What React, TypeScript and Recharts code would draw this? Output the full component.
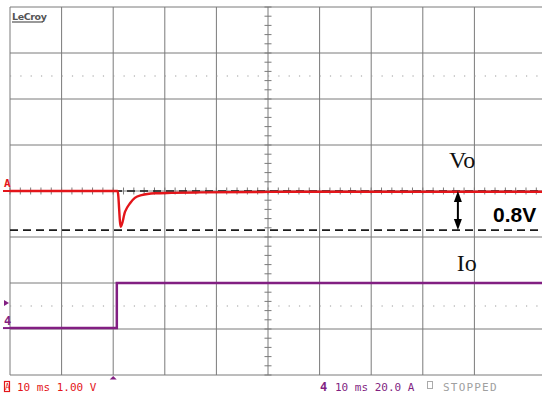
import { ComposedChart, Line, XAxis, YAxis, ReferenceLine, ReferenceDot } from "recharts";

// Vo deviation from its steady level (V), 1 V/div
const voTime = [-20, 0.85, 1.45, 2.3, 3.3, 4.2, 5.5, 8.1, 11.3, 16.8, 30, 50, 83.1];
const voDelta = [0, 0, -0.78, -0.45, -0.26, -0.15, -0.09, -0.05, -0.04, -0.03, -0.02, -0.015, -0.015];

// Io load step (A), 20 A/div
const ioTime = [-20, 0.7, 0.7, 83.1];
const ioAmps = [0, 0, 19.6, 19.6];

// scope grid (10 ms/div, 1 div vertical)
const gridTime = [-20, -10, 0, 10, 20, 30, 40, 50, 60, 70];
const gridVolt = [-4, -3, -2, -1, 0, 1, 2, 3, 4];
const dottedVolt = [2.5, -2.5];
const dipLevel = -0.85;

const voData = voTime.map((t, i) => ({ t, v: voDelta[i] }));
const ioData = ioTime.map((t, i) => ({ t, a: ioAmps[i] }));

const minorTime = Array.from({ length: 52 }, (_, i) => -20 + i * 2);
const minorVolt = Array.from({ length: 41 }, (_, i) => -4 + i * 0.2);

const RED = "#e3151a";
const PURPLE = "#821f82";
const GRID = "#7a7a7a";

const Arrow = (p: any) => {
  const x = p.x1;
  const top = Math.min(p.y1, p.y2);
  const bot = Math.max(p.y1, p.y2);
  return (
    <g>
      <line x1={x} y1={top + 6} x2={x} y2={bot - 6} stroke="#000" strokeWidth={2} />
      <path d={`M${x},${top} L${x - 4},${top + 11} L${x + 4},${top + 11} Z`} fill="#000" />
      <path d={`M${x},${bot} L${x - 4},${bot - 11} L${x + 4},${bot - 11} Z`} fill="#000" />
    </g>
  );
};

export default function App() {
  return (
    <div style={{ position: "absolute", left: 0, top: 0, width: 542, height: 394, background: "#fff" }}>
      <ComposedChart width={542} height={394} margin={{ top: 7, right: 0, bottom: 19, left: 10 }}>
        <XAxis dataKey="t" type="number" domain={[-20, 83.1]} allowDataOverflow hide />
        <YAxis yAxisId="v" type="number" domain={[-4, 4]} allowDataOverflow hide />
        <YAxis yAxisId="i" type="number" domain={[-20.4, 139.6]} allowDataOverflow hide />

        {gridTime.map((t) => (
          <ReferenceLine key={"gx" + t} yAxisId="v" x={t} stroke={GRID} strokeWidth={1} />
        ))}
        {gridVolt.map((v) => (
          <ReferenceLine key={"gy" + v} yAxisId="v" y={v} stroke={GRID} strokeWidth={1} />
        ))}
        {dottedVolt.map((v) => (
          <ReferenceLine key={"dy" + v} yAxisId="v" y={v} stroke="#9a9a9a" strokeWidth={1} strokeDasharray="1.2 9.12" />
        ))}
        {minorVolt.map((v) => (
          <ReferenceLine
            key={"mv" + v}
            yAxisId="v"
            segment={[{ x: 29.32, y: v }, { x: 30.68, y: v }]}
            stroke={GRID}
          />
        ))}
        {minorTime.map((t) => (
          <ReferenceLine
            key={"mt" + t}
            yAxisId="v"
            segment={[{ x: t, y: -0.076 }, { x: t, y: 0.076 }]}
            stroke={GRID}
          />
        ))}

        <ReferenceLine yAxisId="v" y={0} stroke="#1a1a1a" strokeWidth={1.6} strokeDasharray="8 5" />
        <ReferenceLine yAxisId="v" y={dipLevel} stroke="#1a1a1a" strokeWidth={1.6} strokeDasharray="8 5" />

        <Line
          yAxisId="i"
          data={ioData}
          dataKey="a"
          type="linear"
          stroke={PURPLE}
          strokeWidth={2.5}
          dot={false}
          isAnimationActive={false}
        />
        <Line
          yAxisId="v"
          data={voData}
          dataKey="v"
          type="monotone"
          stroke={RED}
          strokeWidth={2.4}
          dot={false}
          isAnimationActive={false}
        />

        <ReferenceLine
          yAxisId="v"
          segment={[{ x: 66.8, y: 0 }, { x: 66.8, y: dipLevel }]}
          shape={Arrow}
        />

        <ReferenceDot
          yAxisId="v"
          x={65.1}
          y={0.5}
          r={0}
          shape={(p: any) => (
            <text x={p.cx} y={p.cy} fontFamily="'Liberation Serif', 'Times New Roman', serif" fontSize={24} fill="#111">
              Vo
            </text>
          )}
        />
        <ReferenceDot
          yAxisId="v"
          x={66.6}
          y={-1.74}
          r={0}
          shape={(p: any) => (
            <text x={p.cx} y={p.cy} fontFamily="'Liberation Serif', 'Times New Roman', serif" fontSize={24} fill="#111">
              Io
            </text>
          )}
        />
        <ReferenceDot
          yAxisId="v"
          x={73.6}
          y={-0.674}
          r={0}
          shape={(p: any) => (
            <text x={p.cx} y={p.cy} fontFamily="'Liberation Sans', Arial, sans-serif" fontWeight="bold" fontSize={21} fill="#000">
              0.8V
            </text>
          )}
        />

        {/* channel offset markers at left edge */}
        <ReferenceDot
          yAxisId="v"
          x={-20}
          y={0}
          r={0}
          ifOverflow="visible"
          shape={(p: any) => (
            <g>
              <text x={p.cx - 6} y={p.cy - 4} fontFamily="'DejaVu Sans Mono', monospace" fontWeight="bold" fontSize={11} fill={RED}>
                A
              </text>
              <line x1={p.cx - 7} x2={p.cx} y1={p.cy} y2={p.cy} stroke={RED} strokeWidth={2} />
            </g>
          )}
        />
        <ReferenceDot
          yAxisId="i"
          x={-20}
          y={0}
          r={0}
          ifOverflow="visible"
          shape={(p: any) => (
            <g>
              <path d={`M${p.cx - 6},${p.cy - 28} L${p.cx - 1},${p.cy - 25} L${p.cx - 6},${p.cy - 22} Z`} fill={PURPLE} />
              <text x={p.cx - 6} y={p.cy - 3} fontFamily="'DejaVu Sans Mono', monospace" fontWeight="bold" fontSize={12} fill={PURPLE}>
                4
              </text>
              <line x1={p.cx - 7} x2={p.cx} y1={p.cy} y2={p.cy} stroke={PURPLE} strokeWidth={2} />
            </g>
          )}
        />
        {/* trigger marker */}
        <ReferenceDot
          yAxisId="v"
          x={0}
          y={-4}
          r={0}
          ifOverflow="visible"
          shape={(p: any) => (
            <path d={`M${p.cx},${p.cy + 1} L${p.cx - 3.5},${p.cy + 4.5} L${p.cx + 3.5},${p.cy + 4.5} Z`} fill={PURPLE} />
          )}
        />
      </ComposedChart>

      <svg width={542} height={394} style={{ position: "absolute", left: 0, top: 0, pointerEvents: "none" }}>
        <text x={12} y={20} fontFamily="'DejaVu Sans', sans-serif" fontWeight="bold" fontSize={9.5} fill="#555" letterSpacing={-0.4}>
          LeCroy
        </text>
        <line x1={12} x2={43} y1={22} y2={22} stroke="#555" strokeWidth={1.2} />

        <rect x={4.5} y={381.5} width={5} height={10} fill="none" stroke={RED} strokeWidth={1.2} />
        <text x={5} y={390} fontFamily="'DejaVu Sans Mono', monospace" fontSize={8} fill={RED}>A</text>
        <text x={17} y={391} fontFamily="'DejaVu Sans Mono', monospace" fontSize={11} fill={RED}>
          10 ms 1.00 V
        </text>

        <text x={320} y={391} fontFamily="'DejaVu Sans Mono', monospace" fontWeight="bold" fontSize={12} fill={PURPLE}>
          4
        </text>
        <text x={335} y={391} fontFamily="'DejaVu Sans Mono', monospace" fontSize={11} fill={PURPLE}>
          10 ms 20.0 A
        </text>
        <rect x={427.5} y={381.5} width={5} height={7} fill="none" stroke="#aaa" strokeWidth={1} />
        <text x={443} y={391} fontFamily="'DejaVu Sans Mono', monospace" fontSize={11} fill="#a0a0a0" letterSpacing={1.2}>
          STOPPED
        </text>
      </svg>
    </div>
  );
}
